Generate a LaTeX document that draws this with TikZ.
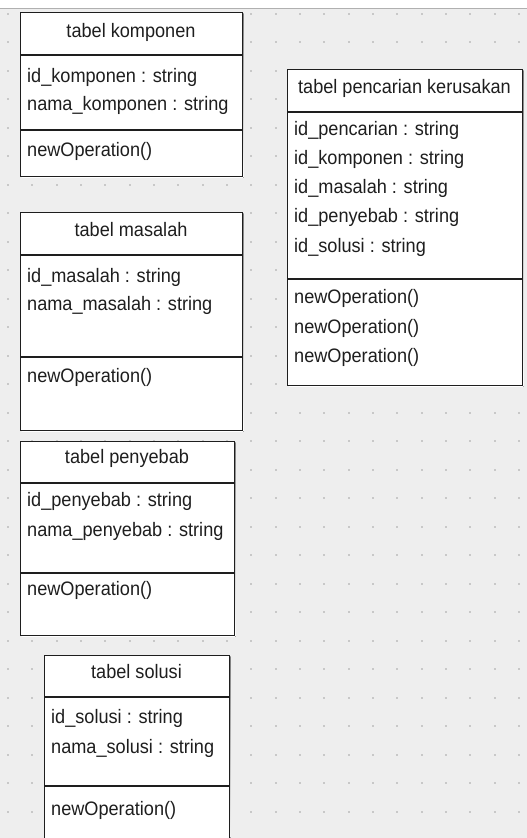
\documentclass[tikz,border=0pt]{standalone}
\usepackage{fontspec}
\setmainfont{Liberation Sans}[FakeStretch=0.93]
\definecolor{canvas}{HTML}{EEEEEE}
\definecolor{griddot}{HTML}{C8C8C8}
\definecolor{topline}{HTML}{B0B0B0}
\definecolor{ink}{HTML}{1E1E1E}
\definecolor{shade}{HTML}{9A9A9A}
\tikzset{
  umlbox/.style={draw=ink, line width=1.4pt, fill=white, inner sep=0pt, anchor=north west},
  divider/.style={draw=ink, line width=1.3pt},
  txt/.style={inner sep=0pt, text=ink, font=\fontsize{19.5}{20}\selectfont},
  attr/.style={txt, anchor=base west},
  title/.style={txt, anchor=base},
}
% class box with a thin drop shadow: name, left, top, width, height
\newcommand{\classbox}[5]{%
  \fill[shade] (#2+1.6,#3+1.6) rectangle (#2+#4+1.6,#3+#5+1.6);
  \node[umlbox, minimum width=#4pt, minimum height=#5pt] (#1) at (#2,#3) {};
}
\begin{document}
\begin{tikzpicture}[x=1pt, y=-1pt]
\useasboundingbox (0,0) rectangle (527,838);
\clip (0,0) rectangle (527,838);
% canvas and dotted grid
\fill[canvas] (0,0) rectangle (527,838);
\fill[white] (0,0) rectangle (527,7.5);
\draw[topline, line width=1pt] (0,8) -- (527,8);
\foreach \i in {0,...,21} {
  \foreach \j in {0,...,29} {
    \fill[griddot] (8+24.33*\i-1,13.5+28.5*\j-1) rectangle ++(2,2);
  }
}

% tabel komponen
\classbox{komp}{20}{12}{222}{164}
\draw[divider] (20,55) -- (242,55);
\draw[divider] (20,130) -- (242,130);
\node[title] (komp-t) at (131,37) {tabel komponen};
\node[attr] (komp-a1) at (27,82) {id\_komponen : string};
\node[attr] (komp-a2) at (27,110) {nama\_komponen : string};
\node[attr] (komp-m1) at (27,156) {newOperation()};

% tabel masalah
\classbox{mas}{20}{212}{222}{218}
\draw[divider] (20,255) -- (242,255);
\draw[divider] (20,357) -- (242,357);
\node[title] (mas-t) at (131,236) {tabel masalah};
\node[attr] (mas-a1) at (27,282) {id\_masalah : string};
\node[attr] (mas-a2) at (27,310) {nama\_masalah : string};
\node[attr] (mas-m1) at (27,382) {newOperation()};

% tabel penyebab
\classbox{peny}{20}{441}{214}{194}
\draw[divider] (20,483) -- (234,483);
\draw[divider] (20,573) -- (234,573);
\node[title] (peny-t) at (127,463) {tabel penyebab};
\node[attr] (peny-a1) at (27,506) {id\_penyebab : string};
\node[attr] (peny-a2) at (27,536) {nama\_penyebab : string};
\node[attr] (peny-m1) at (27,595) {newOperation()};

% tabel solusi
\classbox{sol}{44}{655}{185}{200}
\draw[divider] (44,697) -- (229,697);
\draw[divider] (44,786) -- (229,786);
\node[title] (sol-t) at (136.5,678) {tabel solusi};
\node[attr] (sol-a1) at (51,723) {id\_solusi : string};
\node[attr] (sol-a2) at (51,753) {nama\_solusi : string};
\node[attr] (sol-m1) at (51,815) {newOperation()};

% tabel pencarian kerusakan
\classbox{cari}{287}{69}{235}{316}
\draw[divider] (287,112) -- (522,112);
\draw[divider] (287,279) -- (522,279);
\node[title] (cari-t) at (404.5,93) {tabel pencarian kerusakan};
\node[attr] (cari-a1) at (294,135) {id\_pencarian : string};
\node[attr] (cari-a2) at (294,164) {id\_komponen : string};
\node[attr] (cari-a3) at (294,193) {id\_masalah : string};
\node[attr] (cari-a4) at (294,222) {id\_penyebab : string};
\node[attr] (cari-a5) at (294,252) {id\_solusi : string};
\node[attr] (cari-m1) at (294,303) {newOperation()};
\node[attr] (cari-m2) at (294,333) {newOperation()};
\node[attr] (cari-m3) at (294,362) {newOperation()};
\end{tikzpicture}
\end{document}
